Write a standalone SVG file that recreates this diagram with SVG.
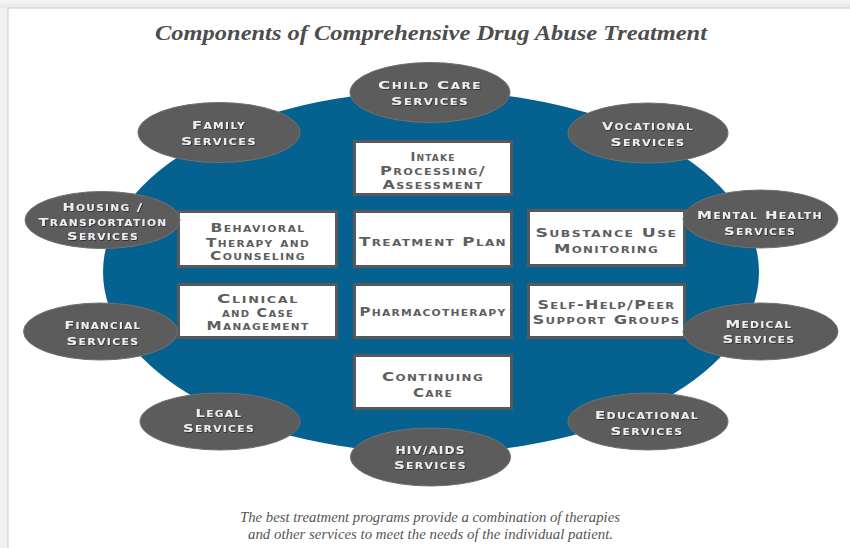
<svg xmlns="http://www.w3.org/2000/svg" width="850" height="548" viewBox="0 0 850 548">
  <defs>
    <linearGradient id="pageTop" x1="0" y1="0" x2="0" y2="1">
      <stop offset="0" stop-color="#f6f6f6"/>
      <stop offset="1" stop-color="#e6e6e6"/>
    </linearGradient>
    <filter id="engrave" x="-10%" y="-30%" width="120%" height="160%">
      <feDropShadow dx="0.8" dy="0.8" stdDeviation="0.3" flood-color="#222" flood-opacity="0.85"/>
    </filter>
  </defs>
  <style>
    .title { font-family: "Liberation Serif", "DejaVu Serif", serif; font-style: italic; font-weight: bold; font-size: 20px; fill: #4d4d4d; }
    .caption { font-family: "Liberation Serif", "DejaVu Serif", serif; font-style: italic; font-size: 15px; fill: #555; }
    .hub { fill: #05618f; }
    .svc { fill: #5c5c5c; stroke: #707070; stroke-width: 1; }
    .box { fill: #ffffff; stroke: #585858; stroke-width: 3; }
    .bt { font-family: "DejaVu Sans", "Liberation Sans", sans-serif; font-weight: bold; font-variant: small-caps; font-size: 11.5px; fill: #5e5e5e; text-anchor: middle; letter-spacing: 1px; }
    .bt.lg { font-size: 12.5px; }
    .et { font-family: "DejaVu Sans", "Liberation Sans", sans-serif; font-weight: bold; font-variant: small-caps; font-size: 11px; fill: #ececf2; text-anchor: middle; letter-spacing: 1px; filter: url(#engrave); }
  </style>

  <!-- page -->
  <rect x="0" y="0" width="850" height="548" fill="#f1f1f1"/>
  <rect x="0" y="0" width="850" height="8" fill="url(#pageTop)"/>
  <rect x="8" y="8" width="850" height="548" fill="#ffffff" stroke="#d2d2d2" stroke-width="1.2"/>

  <text class="title" x="431" y="40" text-anchor="middle" textLength="552" lengthAdjust="spacingAndGlyphs">Components of Comprehensive Drug Abuse Treatment</text>

  <!-- central program -->
  <ellipse class="hub" cx="431" cy="272" rx="328" ry="181"/>

  <!-- core treatment boxes -->
  <g id="intake">
    <rect class="box" x="354.5" y="141.5" width="157" height="53"/>
    <text class="bt" x="433" y="161" textLength="45" lengthAdjust="spacingAndGlyphs">Intake</text>
    <text class="bt" x="433" y="175" textLength="106" lengthAdjust="spacingAndGlyphs">Processing/</text>
    <text class="bt" x="433" y="189" textLength="101" lengthAdjust="spacingAndGlyphs">Assessment</text>
  </g>
  <g id="behavioral">
    <rect class="box" x="178.5" y="211.5" width="158" height="55"/>
    <text class="bt" x="258" y="232" textLength="95" lengthAdjust="spacingAndGlyphs">Behavioral</text>
    <text class="bt" x="258" y="246.5" textLength="104" lengthAdjust="spacingAndGlyphs">Therapy and</text>
    <text class="bt" x="258" y="259.5" textLength="96" lengthAdjust="spacingAndGlyphs">Counseling</text>
  </g>
  <g id="treatment-plan">
    <rect class="box" x="354.5" y="211.5" width="157" height="55"/>
    <text class="bt lg" x="433" y="246" textLength="148" lengthAdjust="spacingAndGlyphs">Treatment Plan</text>
  </g>
  <g id="substance-use">
    <rect class="box" x="528.5" y="210.5" width="156" height="55"/>
    <text class="bt lg" x="606.5" y="237" textLength="142" lengthAdjust="spacingAndGlyphs">Substance Use</text>
    <text class="bt lg" x="606.5" y="252.5" textLength="105" lengthAdjust="spacingAndGlyphs">Monitoring</text>
  </g>
  <g id="clinical">
    <rect class="box" x="178.5" y="284.5" width="158" height="53"/>
    <text class="bt" x="258" y="303" textLength="82" lengthAdjust="spacingAndGlyphs">Clinical</text>
    <text class="bt" x="258" y="316.5" textLength="72" lengthAdjust="spacingAndGlyphs">and Case</text>
    <text class="bt" x="258" y="330" textLength="103" lengthAdjust="spacingAndGlyphs">Management</text>
  </g>
  <g id="pharmacotherapy">
    <rect class="box" x="354.5" y="284.5" width="157" height="53"/>
    <text class="bt lg" x="433" y="316" textLength="147" lengthAdjust="spacingAndGlyphs">Pharmacotherapy</text>
  </g>
  <g id="self-help">
    <rect class="box" x="528.5" y="284.5" width="156" height="53"/>
    <text class="bt lg" x="606.5" y="309" textLength="138" lengthAdjust="spacingAndGlyphs">Self-Help/Peer</text>
    <text class="bt lg" x="606.5" y="324" textLength="148" lengthAdjust="spacingAndGlyphs">Support Groups</text>
  </g>
  <g id="continuing-care">
    <rect class="box" x="354.5" y="355.5" width="157" height="53"/>
    <text class="bt lg" x="433" y="380.5" textLength="102" lengthAdjust="spacingAndGlyphs">Continuing</text>
    <text class="bt lg" x="433" y="396.5" textLength="40" lengthAdjust="spacingAndGlyphs">Care</text>
  </g>

  <!-- surrounding services -->
  <g id="child-care">
    <ellipse class="svc" cx="430" cy="92.5" rx="80" ry="30"/>
    <text class="et" x="430" y="89" textLength="104" lengthAdjust="spacingAndGlyphs">Child Care</text>
    <text class="et" x="430" y="105" textLength="78" lengthAdjust="spacingAndGlyphs">Services</text>
  </g>
  <g id="family">
    <ellipse class="svc" cx="219" cy="132.5" rx="81" ry="30"/>
    <text class="et" x="219" y="129" textLength="54" lengthAdjust="spacingAndGlyphs">Family</text>
    <text class="et" x="219" y="145" textLength="76" lengthAdjust="spacingAndGlyphs">Services</text>
  </g>
  <g id="vocational">
    <ellipse class="svc" cx="648" cy="133" rx="80" ry="30"/>
    <text class="et" x="648" y="129.5" textLength="92" lengthAdjust="spacingAndGlyphs">Vocational</text>
    <text class="et" x="648" y="145.5" textLength="75" lengthAdjust="spacingAndGlyphs">Services</text>
  </g>
  <g id="housing">
    <ellipse class="svc" cx="102.5" cy="220" rx="77.5" ry="28.5"/>
    <text class="et" x="103" y="210.7" textLength="81" lengthAdjust="spacingAndGlyphs">Housing /</text>
    <text class="et" x="103" y="226" textLength="129" lengthAdjust="spacingAndGlyphs">Transportation</text>
    <text class="et" x="103" y="240" textLength="72" lengthAdjust="spacingAndGlyphs">Services</text>
  </g>
  <g id="mental-health">
    <ellipse class="svc" cx="760.5" cy="219" rx="77.5" ry="29"/>
    <text class="et" x="760" y="219.3" textLength="126" lengthAdjust="spacingAndGlyphs">Mental Health</text>
    <text class="et" x="760" y="235" textLength="72" lengthAdjust="spacingAndGlyphs">Services</text>
  </g>
  <g id="financial">
    <ellipse class="svc" cx="100.5" cy="331.5" rx="77" ry="28.5"/>
    <text class="et" x="103" y="329" textLength="77" lengthAdjust="spacingAndGlyphs">Financial</text>
    <text class="et" x="103" y="345" textLength="73" lengthAdjust="spacingAndGlyphs">Services</text>
  </g>
  <g id="medical">
    <ellipse class="svc" cx="760.5" cy="331.5" rx="77.5" ry="28.5"/>
    <text class="et" x="759" y="328" textLength="67" lengthAdjust="spacingAndGlyphs">Medical</text>
    <text class="et" x="759" y="343" textLength="73" lengthAdjust="spacingAndGlyphs">Services</text>
  </g>
  <g id="legal">
    <ellipse class="svc" cx="220" cy="421.5" rx="80" ry="28.5"/>
    <text class="et" x="219" y="417" textLength="47" lengthAdjust="spacingAndGlyphs">Legal</text>
    <text class="et" x="219" y="432" textLength="72" lengthAdjust="spacingAndGlyphs">Services</text>
  </g>
  <g id="educational">
    <ellipse class="svc" cx="648" cy="421.5" rx="80" ry="28.5"/>
    <text class="et" x="647" y="419" textLength="104" lengthAdjust="spacingAndGlyphs">Educational</text>
    <text class="et" x="647" y="435" textLength="73" lengthAdjust="spacingAndGlyphs">Services</text>
  </g>
  <g id="hiv-aids">
    <ellipse class="svc" cx="430.5" cy="457" rx="80" ry="29"/>
    <text class="et" x="430.5" y="453.5" textLength="70" lengthAdjust="spacingAndGlyphs">HIV/AIDS</text>
    <text class="et" x="430.5" y="469" textLength="73" lengthAdjust="spacingAndGlyphs">Services</text>
  </g>

  <text class="caption" x="430" y="522" text-anchor="middle" textLength="380" lengthAdjust="spacingAndGlyphs">The best treatment programs provide a combination of  therapies</text>
  <text class="caption" x="430.5" y="539" text-anchor="middle" textLength="365" lengthAdjust="spacingAndGlyphs">and other services to meet the needs of  the individual patient.</text>
</svg>
